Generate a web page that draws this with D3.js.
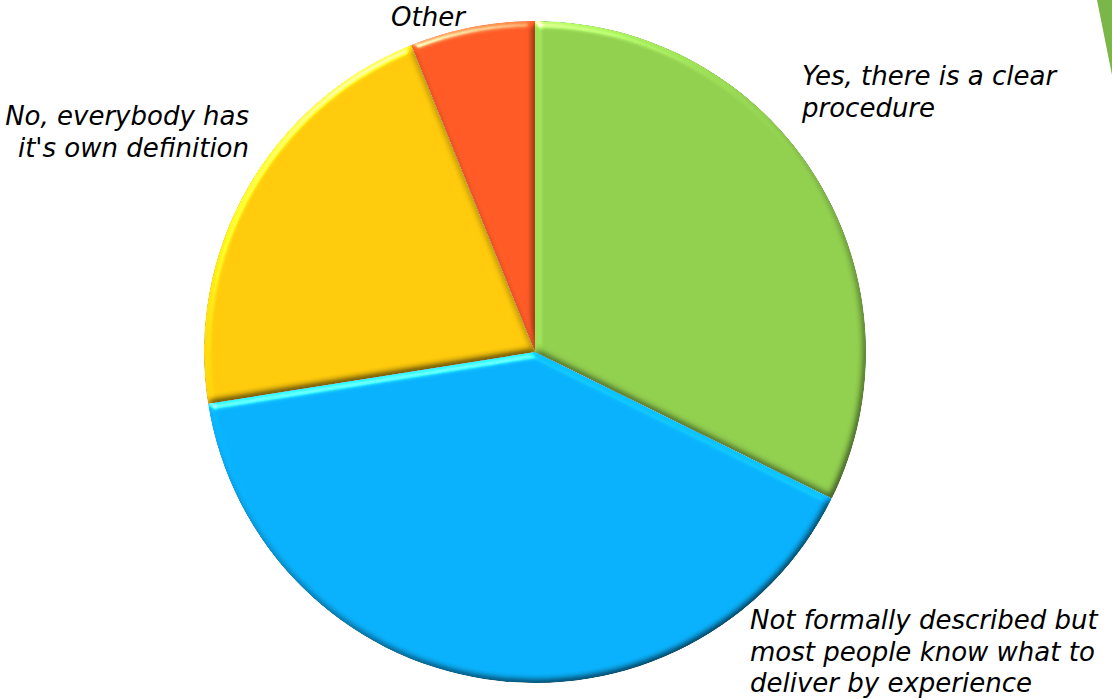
<!DOCTYPE html>
<html>
<head>
<meta charset="utf-8">
<script src="https://cdn.jsdelivr.net/npm/d3@7/dist/d3.min.js"></script>
<style>
  html, body { margin: 0; padding: 0; background: #ffffff; }
  svg { display: block; }
  .label { font-family: "DejaVu Sans", "Noto Sans", sans-serif; font-style: italic; font-size: 26px; fill: #000; }
</style>
</head>
<body>
<svg id="chart" width="1112" height="699"></svg>
<script>
// Survey answers, in clockwise order starting at 12 o'clock
const categories = [
  "Yes, there is a clear procedure",
  "Not formally described but most people know what to deliver by experience",
  "No, everybody has it's own definition",
  "Other"
];
const shares = [32.3, 40.2, 21.4, 6.1];
const sliceColors = ["#92d050", "#0ab2fd", "#ffcb0c", "#ff5b26"];
// Wrapped label lines for each slice
const labelLines = [
  ["Yes, there is a clear", "procedure"],
  ["Not formally described but", "most people know what to", "deliver by experience"],
  ["No, everybody has", "it's own definition"],
  ["Other"]
];

const width = 1112, height = 699;
const cx = 535, cy = 352, radius = 331;

// Label placement relative to the pie centre: x, first baseline, anchor
const labelLayout = [
  { x: 267, y: -267, anchor: "start" },
  { x: 215, y: 277, anchor: "start" },
  { x: -286, y: -227, anchor: "end" },
  { x: -144, y: -326, anchor: "start" }
];
const lineHeight = 31.5;

const svg = d3.select("#chart");
const defs = svg.append("defs");

// Soft bevel: lighting derived from a blurred copy of each slice's alpha
const elevation = 50;
const bevel = defs.append("filter")
  .attr("id", "bevel")
  .attr("x", "-5%").attr("y", "-5%")
  .attr("width", "110%").attr("height", "110%")
  .attr("color-interpolation-filters", "sRGB");
bevel.append("feGaussianBlur")
  .attr("in", "SourceAlpha").attr("stdDeviation", 3.8).attr("result", "blur");
bevel.append("feDiffuseLighting")
  .attr("in", "blur").attr("surfaceScale", 2.6).attr("diffuseConstant", 1)
  .attr("lighting-color", "#ffffff").attr("result", "diffuse")
  .append("feDistantLight").attr("azimuth", 240).attr("elevation", elevation);
bevel.append("feSpecularLighting")
  .attr("in", "blur").attr("surfaceScale", 2.6).attr("specularConstant", 0.9)
  .attr("specularExponent", 60).attr("lighting-color", "#ffffff").attr("result", "spec")
  .append("feDistantLight").attr("azimuth", 240).attr("elevation", elevation);
bevel.append("feComposite")
  .attr("in", "SourceGraphic").attr("in2", "diffuse")
  .attr("operator", "arithmetic")
  .attr("k1", 1 / Math.sin(elevation * Math.PI / 180)).attr("k2", 0).attr("k3", 0).attr("k4", 0)
  .attr("result", "shaded");
bevel.append("feComposite")
  .attr("in", "shaded").attr("in2", "spec")
  .attr("operator", "arithmetic")
  .attr("k1", 0).attr("k2", 1).attr("k3", 0.7).attr("k4", -0.02)
  .attr("result", "lit");
bevel.append("feComposite")
  .attr("in", "lit").attr("in2", "SourceAlpha").attr("operator", "in");

// Decorative accent in the top-right corner
svg.append("path")
  .attr("d", `M${width - 15},0 L${width},0 L${width},75 Z`)
  .attr("fill", "#7ab648");

const pie = d3.pie().sort(null).value(d => d)(shares);
const arc = d3.arc().innerRadius(0).outerRadius(radius);

const g = svg.append("g").attr("transform", `translate(${cx},${cy})`);

g.selectAll("path.slice")
  .data(pie)
  .join("path")
  .attr("class", "slice")
  .attr("d", arc)
  .attr("fill", (d, i) => sliceColors[i])
  .attr("filter", "url(#bevel)");

const labels = g.selectAll("text.label")
  .data(pie)
  .join("text")
  .attr("class", "label")
  .attr("text-anchor", (d, i) => labelLayout[i].anchor)
  .attr("x", (d, i) => labelLayout[i].x)
  .attr("y", (d, i) => labelLayout[i].y);

labels.each(function (d, i) {
  d3.select(this).selectAll("tspan")
    .data(labelLines[i])
    .join("tspan")
    .attr("x", labelLayout[i].x)
    .attr("dy", (t, j) => j === 0 ? 0 : lineHeight)
    .text(t => t);
});
</script>
</body>
</html>
